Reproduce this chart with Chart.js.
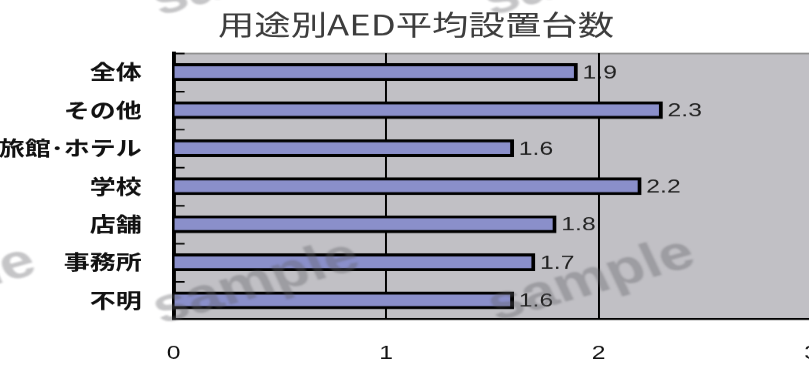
<!DOCTYPE html>
<html lang="ja">
<head>
<meta charset="utf-8">
<title>用途別AED平均設置台数</title>
<script src="https://cdn.jsdelivr.net/npm/chart.js@4/dist/chart.umd.min.js"></script>
<style>
  html, body { margin: 0; padding: 0; background: #fff; overflow: hidden; }
  /* the chart is laid out narrow and widened, so the text comes out broad */
  #wrap { width: 640px; height: 365px; transform: scaleX(1.3); transform-origin: 0 0; }
</style>
</head>
<body>
<div id="wrap"><canvas id="aedChart" width="640" height="365"></canvas></div>
<script>
const categories = ["全体", "その他", "旅館･ホテル", "学校", "店舗", "事務所", "不明"];
const averageUnits = [1.9, 2.3, 1.6, 2.2, 1.8, 1.7, 1.6];
const xTicks = [0, 1, 2, 3];

const PLOT_BG = "#c1c0c5";
const BAR_FILL = "#8a8fca";

// gray plot area, thin top edge, and the value next to each bar
// (drawn before the grid so the grid lines run over the numbers)
const plotBackground = {
  id: "plotBackground",
  beforeDraw(chart) {
    const { ctx, chartArea: a } = chart;
    ctx.save();
    ctx.fillStyle = PLOT_BG;
    ctx.fillRect(a.left, a.top, a.right - a.left, a.bottom - a.top);
    ctx.strokeStyle = "#8c8c8c";
    ctx.lineWidth = 1.5;
    ctx.beginPath();
    ctx.moveTo(a.left, a.top + 0.5);
    ctx.lineTo(a.right, a.top + 0.5);
    ctx.stroke();

    ctx.font = "19px 'Liberation Sans', Arial, sans-serif";
    ctx.fillStyle = "#222";
    ctx.textAlign = "left";
    ctx.textBaseline = "middle";
    chart.getDatasetMeta(0).data.forEach((bar, i) => {
      ctx.fillText(String(averageUnits[i]), bar.x + 4, bar.y + 1);
    });
    ctx.restore();
  }
};

// short tick marks pointing into the plot between categories
const innerTicks = {
  id: "innerTicks",
  beforeDatasetsDraw(chart) {
    const { ctx, chartArea: a, scales: { y } } = chart;
    const band = (y.getPixelForValue(1) - y.getPixelForValue(0));
    ctx.save();
    ctx.strokeStyle = "#000";
    ctx.lineWidth = 1.5;
    ctx.beginPath();
    categories.forEach((c, i) => {
      const py = Math.round(y.getPixelForValue(i) - band / 2) + 0.5;
      ctx.moveTo(a.left, py);
      ctx.lineTo(a.left + 8.5, py);
    });
    ctx.stroke();
    ctx.restore();
  }
};

// "sample" stamps over the whole picture
const stamps = {
  id: "stamps",
  afterDraw(chart) {
    const ctx = chart.ctx;
    const spots = [[-52, 288], [197, 283], [455, 280], [196, -25], [451, -25]];
    ctx.save();
    ctx.font = "bold 48px 'Liberation Sans', Arial, sans-serif";
    ctx.fillStyle = "rgba(95, 95, 100, 0.36)";
    ctx.textAlign = "center";
    ctx.textBaseline = "middle";
    ctx.filter = "blur(1px)";
    spots.forEach(([x, y]) => {
      ctx.save();
      ctx.translate(x, y);
      ctx.rotate(-20 * Math.PI / 180);
      ctx.fillText("sample", 0, 0);
      ctx.restore();
    });
    ctx.restore();
  }
};

new Chart(document.getElementById("aedChart"), {
  type: "bar",
  data: {
    labels: categories,
    datasets: [{
      data: averageUnits,
      backgroundColor: BAR_FILL,
      borderColor: "#000",
      borderWidth: 3,
      borderSkipped: "start",
      barThickness: 17
    }]
  },
  options: {
    indexAxis: "y",
    responsive: false,
    devicePixelRatio: 1.3,
    animation: false,
    layout: { padding: 0 },
    plugins: {
      legend: { display: false },
      tooltip: { enabled: false },
      title: {
        display: true,
        text: "用途別AED平均設置台数",
        color: "#3c3c3c",
        font: { family: "'Noto Sans CJK JP', sans-serif", size: 28, weight: "normal", lineHeight: 1.2 },
        padding: { top: 8.2, bottom: 11.2 }
      }
    },
    scales: {
      x: {
        type: "linear",
        min: xTicks[0],
        max: xTicks[xTicks.length - 1],
        afterBuildTicks: (scale) => { scale.ticks = xTicks.map((v) => ({ value: v })); },
        afterFit: (scale) => { scale.height = 46; scale.paddingRight = 16; },
        ticks: {
          color: "#111",
          padding: 23,
          font: { family: "'Liberation Sans', Arial, sans-serif", size: 19 }
        },
        grid: { color: "#000", lineWidth: 1.5, drawTicks: false },
        border: { color: "#000", width: 2 }
      },
      y: {
        type: "category",
        offset: true,
        afterFit: (scale) => { scale.width = 133.5; },
        ticks: {
          color: "#111",
          padding: 16.5,
          font: { family: "'Noto Sans CJK JP', sans-serif", size: 20, weight: "bold" }
        },
        grid: { display: false },
        border: { color: "#000", width: 3 }
      }
    }
  },
  plugins: [plotBackground, innerTicks, stamps]
});
</script>
</body>
</html>
